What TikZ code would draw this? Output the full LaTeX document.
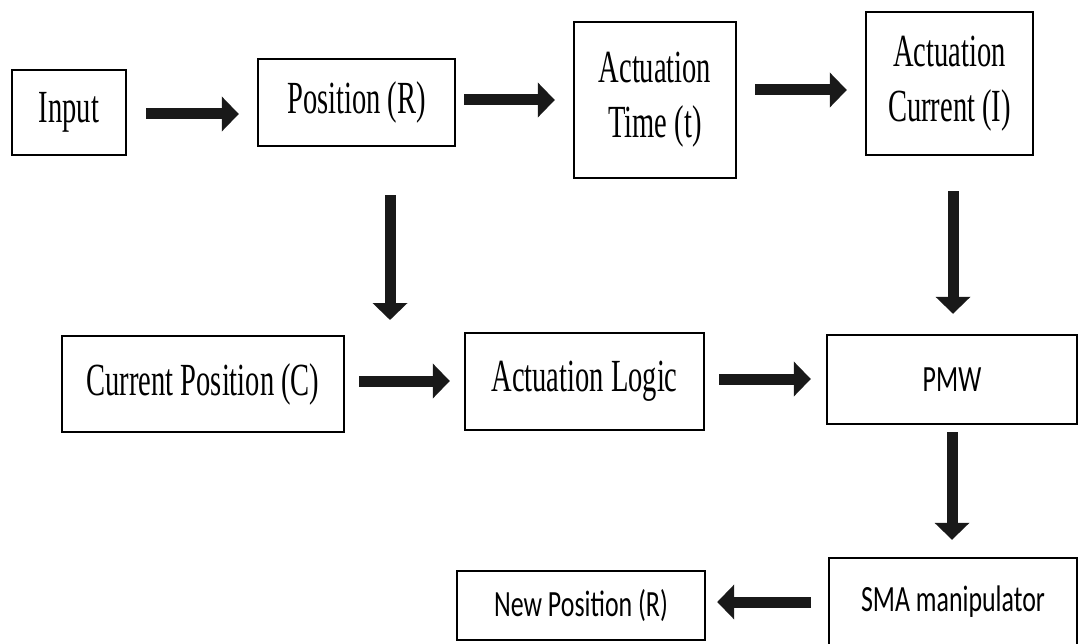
\documentclass[tikz,border=0pt]{standalone}
\usepackage{fontspec}
\usetikzlibrary{arrows.meta}
\newfontfamily\serifc[FakeStretch=0.62]{Liberation Serif}
\newfontfamily\sansc[FakeStretch=0.70]{Carlito}
\begin{document}
\begin{tikzpicture}[x=1pt,y=-1pt,
  box/.style={draw=black,line width=2.4pt,inner sep=0pt,align=center,font=\serifc\fontsize{46}{55}\selectfont},
  sbox/.style={box,font=\sansc\fontsize{37}{44}\selectfont},
  arr/.style={draw=black!90,line width=11pt,-{Triangle[length=17pt,width=34pt]}}]
\useasboundingbox (0,0) rectangle (1078,644);
\clip (0,0) rectangle (1078,644);
% boxes
\node[box,minimum width=114pt,minimum height=85pt] (in) at (69,112.5) {Input};
\node[box,minimum width=197pt,minimum height=87pt] (pos) at (356.5,102.5) {Position (R)};
\node[box,minimum width=162pt,minimum height=156pt] (at) at (655,100) {Actuation\\Time (t)};
\node[box,minimum width=167pt,minimum height=143pt] (ac) at (949.5,83.5) {Actuation\\Current (I)};
\node[box,minimum width=282pt,minimum height=96pt] (cp) at (203,384) {Current Position (C)};
\node[box,minimum width=239pt,minimum height=97pt] (al) at (584.5,381.5) {Actuation Logic};
\node[sbox,minimum width=250pt,minimum height=89pt] (pmw) at (952,379.5) {PMW};
\node[sbox,minimum width=248pt,minimum height=88pt] (sma) at (953,602) {SMA manipulator};
\node[sbox,minimum width=248pt,minimum height=69pt] (np) at (581,605.5) {New Position (R)};
% arrow anchor coordinates
\coordinate (y1) at (0,114);
\coordinate (y2) at (0,100);
\coordinate (y3) at (0,90);
\coordinate (y4) at (0,381);
\coordinate (y5) at (0,379);
\coordinate (y6) at (0,602);
\coordinate (pd) at (390,320);
\coordinate (x2) at (953,0);
\coordinate (x3) at (952,0);
% arrows
\draw[arr,shorten <=19pt,shorten >=18pt] (in.east |- y1) -- (pos.west |- y1);
\draw[arr,shorten <=8pt,shorten >=18pt] (pos.east |- y2) -- (at.west |- y2);
\draw[arr,shorten <=18pt,shorten >=18pt] (at.east |- y3) -- (ac.west |- y3);
\draw[arr,shorten <=48pt] (pos.south -| pd) -- (pd);
\draw[arr,shorten <=35pt,shorten >=20pt] (ac.south -| x2) -- (pmw.north -| x2);
\draw[arr,shorten <=14pt,shorten >=14pt] (cp.east |- y4) -- (al.west |- y4);
\draw[arr,shorten <=14pt,shorten >=15pt] (al.east |- y5) -- (pmw.west |- y5);
\draw[arr,shorten <=7pt,shorten >=17pt] (pmw.south -| x3) -- (sma.north -| x3);
\draw[arr,shorten <=17pt,shorten >=11pt] (sma.west |- y6) -- (np.east |- y6);
\end{tikzpicture}
\end{document}
